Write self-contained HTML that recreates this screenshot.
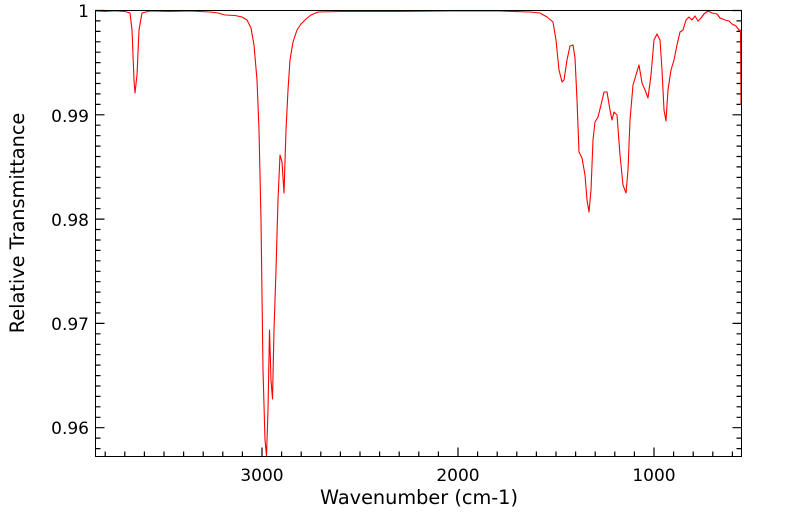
<!DOCTYPE html>
<html><head><meta charset="utf-8"><style>
html,body{margin:0;padding:0;background:#fff;}
svg{display:block;font-family:"DejaVu Sans","Liberation Sans",sans-serif;}
</style></head><body>
<svg width="799" height="516" viewBox="0 0 799 516" xmlns="http://www.w3.org/2000/svg">
<rect width="799" height="516" fill="#fff"/>
<g id="ticks" stroke="#000" stroke-width="1.2"></g>
<path fill="none" stroke="#ff0000" stroke-width="1.1" stroke-linejoin="round" d="M96,11 L105,11.5 L115,10.8 L125,11.5 L130,13 L132,30 L134,80 L135,93 L137,75 L139,30 L142,13 L150,11 L170,11.5 L190,11 L210,12 L218,13 L225,15 L235,15.5 L242,17 L247,20 L251,28 L254,45 L257,80 L259,130 L261,220 L263,370 L265,440 L266.5,456 L268,410 L269.5,330 L271,380 L272.5,399 L274,330 L276,270 L278,200 L280,155 L282,162 L284,193 L286,130 L288,90 L290,60 L293,42 L297,30 L301,24 L306,19 L311,15 L318,12 L340,11.5 L400,11.5 L450,11 L500,11 L530,12 L540,13 L547,17 L553,22 L556,40 L559,70 L562,82 L564,80 L567,60 L570,46 L573,45 L575,58 L577,100 L579,152 L582,158 L585,175 L587,200 L589,212 L591,190 L593,140 L595,122 L598,117 L601,105 L604,92 L607,92 L610,110 L612,120 L614,112 L617,115 L620,155 L623,185 L626,193 L628,170 L630,120 L633,85 L636,75 L639,65 L642,83 L645,90 L648,98 L651,75 L654,40 L657,34 L660,40 L662,70 L664,110 L666,121 L668,90 L671,70 L674,60 L677,45 L680,32 L683,30 L686,20 L689,17 L692,20 L695,16 L698,21 L701,18 L704,14 L708,11 L712,13 L717,14 L720,18 L725,20 L729,21 L732,24 L736,26 L739,30 L740.5,30 L741,105"/>
<rect x="95.5" y="10.5" width="646" height="446" fill="none" stroke="#000" stroke-width="1"/>
<g font-size="17" fill="#000" text-anchor="end">
<text x="89" y="17">1</text>
<text x="89" y="122">0.99</text>
<text x="89" y="226">0.98</text>
<text x="89" y="330">0.97</text>
<text x="89" y="434">0.96</text>
</g>
<g font-size="17" fill="#000" text-anchor="middle">
<text x="262" y="481">3000</text>
<text x="458" y="481">2000</text>
<text x="654" y="481">1000</text>
</g>
<g font-size="19.3" fill="#000" text-anchor="middle">
<text x="419" y="504">Wavenumber (cm-1)</text>
<text transform="translate(24,223) rotate(-90)">Relative Transmittance</text>
</g>
<script>
(function(){var g=document.getElementById('ticks'),s='';
for(var i=0;i<=46;i++){var y=10.5+i*10.43;if(y>456)break;var L=(i%10==0)?9:5;s+='M95.5,'+y.toFixed(1)+'h'+L+'M741.5,'+y.toFixed(1)+'h-'+L;}
for(var w=3800;w>=600;w-=100){var x=262+(3000-w)*0.196;var L=(w%1000==0)?9:5;s+='M'+x.toFixed(1)+',456.5v-'+L;}
var p=document.createElementNS('http://www.w3.org/2000/svg','path');p.setAttribute('d',s);g.appendChild(p);})();
</script>
</svg>
</body></html>
